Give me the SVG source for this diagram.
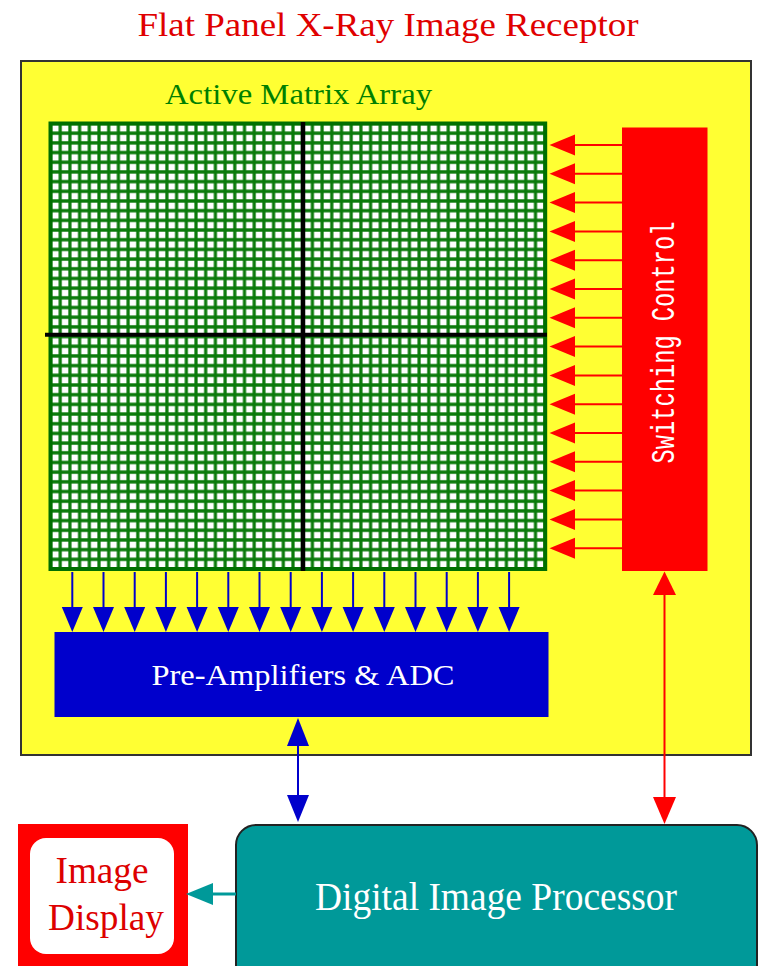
<svg xmlns="http://www.w3.org/2000/svg" xmlns:xlink="http://www.w3.org/1999/xlink" width="759" height="966" viewBox="0 0 759 966">
<style>
.serif{font-family:"Liberation Serif","Times New Roman",serif}
.mono{font-family:"Liberation Mono","Courier New",monospace}
.red-line{stroke:#ff0000;stroke-width:2;fill:none}
.blue-line{stroke:#0000cc;stroke-width:2;fill:none}
.teal-line{stroke:#009999;stroke-width:3;fill:none}
.red-head{fill:#ff0000}
.blue-head{fill:#0000cc}
.teal-head{fill:#009999}
</style>
<defs>
<pattern id="grid" patternUnits="userSpaceOnUse" x="45.65" y="118.66" width="9.7" height="9.685">
<rect width="9.7" height="9.685" fill="#ffffff"/>
<path d="M4.85 0V9.685M0 4.84H9.7" stroke="#0a7a0a" stroke-width="3.2" fill="none"/>
</pattern>
<g id="ra">
<line class="red-line" x1="25" y1="0" x2="72.5" y2="0"/>
<polygon class="red-head" points="0,0 25.5,-10.5 25.5,10.5"/>
</g>
<g id="ba">
<line class="blue-line" x1="0" y1="0" x2="0" y2="36"/>
<polygon class="blue-head" points="-10.5,35 10.5,35 0,60"/>
</g>
</defs>
<rect width="759" height="966" fill="#ffffff"/>
<text class="serif" x="388" y="36" font-size="34" fill="#e00000" text-anchor="middle" textLength="501" lengthAdjust="spacingAndGlyphs">Flat Panel X-Ray Image Receptor</text>
<g id="receptor">
<rect x="21" y="61" width="730" height="694" fill="#ffff33" stroke="#333333" stroke-width="2"/>
</g>
<g id="matrix">
<text class="serif" x="298.5" y="104" font-size="30" fill="#007f00" text-anchor="middle" textLength="267" lengthAdjust="spacingAndGlyphs">Active Matrix Array</text>
<rect x="50.5" y="123.5" width="494.7" height="445.5" fill="url(#grid)" stroke="#006f00" stroke-width="4"/>
<line x1="303" y1="122" x2="303" y2="571" stroke="#000000" stroke-width="4.5"/>
<line x1="45" y1="334.7" x2="547" y2="334.7" stroke="#000000" stroke-width="4"/>
</g>
<g id="switching">
<rect x="622" y="127.5" width="85.5" height="443.5" fill="#ff0000"/>
<text class="mono" transform="translate(674 342.5) rotate(-90)" x="0" y="0" font-size="34" fill="#ffffff" text-anchor="middle" textLength="242" lengthAdjust="spacingAndGlyphs">Switching Control</text>
</g>
<g id="preamp">
<rect x="54.5" y="632" width="494" height="85" fill="#0000cc"/>
<text class="serif" x="303" y="685" font-size="30" fill="#ffffff" text-anchor="middle" textLength="303" lengthAdjust="spacingAndGlyphs">Pre-Amplifiers &amp; ADC</text>
</g>
<g id="processor">
<rect x="236" y="825" width="521" height="165" rx="20" ry="20" fill="#009999" stroke="#222222" stroke-width="2"/>
<text class="serif" x="496" y="910" font-size="40" fill="#ffffff" text-anchor="middle" textLength="362" lengthAdjust="spacingAndGlyphs">Digital Image Processor</text>
</g>
<g id="display">
<rect x="18" y="824" width="170" height="160" fill="#ff0000"/>
<rect x="30" y="838" width="144" height="116" rx="16" ry="16" fill="#ffffff"/>
<text class="serif" x="102" y="883" font-size="37" fill="#dd0000" text-anchor="middle" textLength="93" lengthAdjust="spacingAndGlyphs">Image</text>
<text class="serif" x="106" y="930" font-size="37" fill="#dd0000" text-anchor="middle" textLength="116" lengthAdjust="spacingAndGlyphs">Display</text>
</g>
<g id="connectors">
<use xlink:href="#ra" x="549.5" y="145"/>
<use xlink:href="#ra" x="549.5" y="173.8"/>
<use xlink:href="#ra" x="549.5" y="202.6"/>
<use xlink:href="#ra" x="549.5" y="231.4"/>
<use xlink:href="#ra" x="549.5" y="260.2"/>
<use xlink:href="#ra" x="549.5" y="289"/>
<use xlink:href="#ra" x="549.5" y="317.8"/>
<use xlink:href="#ra" x="549.5" y="346.6"/>
<use xlink:href="#ra" x="549.5" y="375.4"/>
<use xlink:href="#ra" x="549.5" y="404.2"/>
<use xlink:href="#ra" x="549.5" y="433"/>
<use xlink:href="#ra" x="549.5" y="461.8"/>
<use xlink:href="#ra" x="549.5" y="490.6"/>
<use xlink:href="#ra" x="549.5" y="519.4"/>
<use xlink:href="#ra" x="549.5" y="548.2"/>
<use xlink:href="#ba" x="72.3" y="572"/>
<use xlink:href="#ba" x="103.5" y="572"/>
<use xlink:href="#ba" x="134.7" y="572"/>
<use xlink:href="#ba" x="165.9" y="572"/>
<use xlink:href="#ba" x="197.1" y="572"/>
<use xlink:href="#ba" x="228.3" y="572"/>
<use xlink:href="#ba" x="259.5" y="572"/>
<use xlink:href="#ba" x="290.7" y="572"/>
<use xlink:href="#ba" x="321.9" y="572"/>
<use xlink:href="#ba" x="353.1" y="572"/>
<use xlink:href="#ba" x="384.3" y="572"/>
<use xlink:href="#ba" x="415.5" y="572"/>
<use xlink:href="#ba" x="446.7" y="572"/>
<use xlink:href="#ba" x="477.9" y="572"/>
<use xlink:href="#ba" x="509.1" y="572"/>
<line class="blue-line" x1="298" y1="745" x2="298" y2="796"/>
<polygon class="blue-head" points="298,718 287,746 309,746"/>
<polygon class="blue-head" points="287,795 309,795 298,822"/>
<line class="red-line" x1="664.5" y1="594" x2="664.5" y2="798"/>
<polygon class="red-head" points="664.5,571.5 653,595 676,595"/>
<polygon class="red-head" points="653,797 676,797 664.5,824"/>
<line class="teal-line" x1="212" y1="894" x2="236" y2="894"/>
<polygon class="teal-head" points="186,894 213,883 213,905"/>
</g>
</svg>
